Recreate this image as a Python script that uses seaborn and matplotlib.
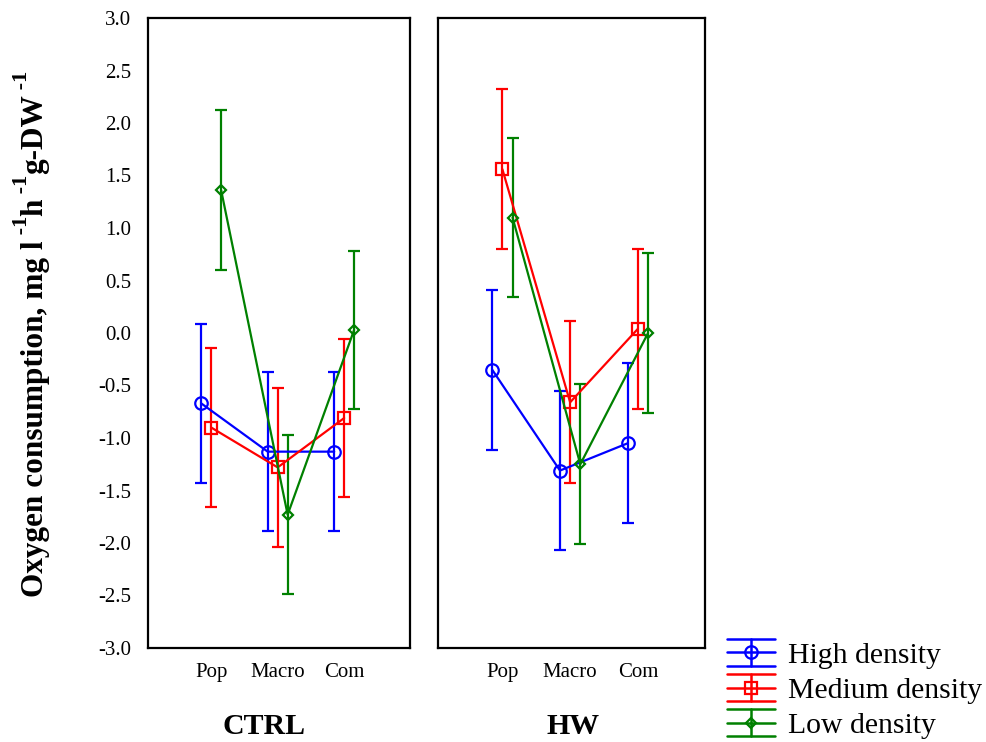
import numpy as np
import pandas as pd
import seaborn as sns
import matplotlib
matplotlib.use("Agg")
import matplotlib.pyplot as plt
from matplotlib.lines import Line2D
from matplotlib.legend_handler import HandlerBase
from matplotlib.transforms import IdentityTransform

# ---------------- data ----------------
categories = ["Pop", "Macro", "Com"]
panels = ["CTRL", "HW"]
densities = ["High density", "Medium density", "Low density"]

ctrl_high = [-0.67, -1.13, -1.13]
ctrl_high_err = [0.76, 0.76, 0.76]
ctrl_medium = [-0.90, -1.28, -0.81]
ctrl_medium_err = [0.76, 0.76, 0.75]
ctrl_low = [1.36, -1.73, 0.03]
ctrl_low_err = [0.76, 0.76, 0.75]

hw_high = [-0.35, -1.31, -1.05]
hw_high_err = [0.76, 0.76, 0.76]
hw_medium = [1.56, -0.66, 0.04]
hw_medium_err = [0.76, 0.77, 0.76]
hw_low = [1.10, -1.25, 0.00]
hw_low_err = [0.76, 0.76, 0.76]

yticks = [-3.0, -2.5, -2.0, -1.5, -1.0, -0.5, 0.0, 0.5, 1.0, 1.5, 2.0, 2.5, 3.0]

ylabel_pieces = [("Oxygen consumption, mg l", False), (" -1", True),
                 ("h", False), (" -1", True),
                 ("g-DW", False), (" -1", True)]

# ---------------- styling ----------------
sns.set_theme(style="white")
plt.rcParams["font.family"] = ["Liberation Serif", "DejaVu Serif"]
for k in ["text.color", "axes.labelcolor", "xtick.color", "ytick.color", "axes.edgecolor"]:
    plt.rcParams[k] = "black"

colors = {"High density": "#0000ff", "Medium density": "#ff0000", "Low density": "#008000"}
markers = {"High density": "o", "Medium density": "s", "Low density": "D"}
msizes = {"High density": 9, "Medium density": 8.5, "Low density": 5.5}
dodge = {"High density": -0.15, "Medium density": 0.0, "Low density": 0.15}

series = {
    ("CTRL", "High density"): (ctrl_high, ctrl_high_err),
    ("CTRL", "Medium density"): (ctrl_medium, ctrl_medium_err),
    ("CTRL", "Low density"): (ctrl_low, ctrl_low_err),
    ("HW", "High density"): (hw_high, hw_high_err),
    ("HW", "Medium density"): (hw_medium, hw_medium_err),
    ("HW", "Low density"): (hw_low, hw_low_err),
}

rows = []
for (panel, dens), (vals, errs) in series.items():
    for i, cat in enumerate(categories):
        rows.append(dict(panel=panel, density=dens, category=cat,
                         idx=i, value=vals[i], err=errs[i]))
df = pd.DataFrame(rows)
df["xpos"] = df["idx"] + df["density"].map(dodge)

W, H = 986, 742
fig = plt.figure(figsize=(W / 100, H / 100), dpi=100)
axes = [fig.add_axes([148 / W, 1 - 648 / H, 262 / W, 630 / H]),
        fig.add_axes([438 / W, 1 - 648 / H, 267 / W, 630 / H])]
panel_label_x = [264 / W, 573 / W]

for ax, panel, lx in zip(axes, panels, panel_label_x):
    for dens in densities:
        sub = df[(df.panel == panel) & (df.density == dens)]
        c = colors[dens]
        ax.errorbar(sub["xpos"], sub["value"], yerr=sub["err"], fmt="none",
                    ecolor=c, elinewidth=1.6, capsize=4, capthick=1.6, zorder=2)
        sns.lineplot(data=sub, x="xpos", y="value", ax=ax, color=c,
                     marker=markers[dens], markersize=msizes[dens],
                     markerfacecolor="none", markeredgecolor=c,
                     markeredgewidth=1.6, linewidth=1.6, sort=False,
                     errorbar=None, legend=False, zorder=3)
    ax.set_xlim(-0.95, 2.99)
    ax.set_ylim(-3.0, 3.0)
    ax.set_xticks(range(len(categories)))
    ax.set_xticklabels(categories, fontsize=15)
    ax.set_yticks(yticks)
    ax.set_xlabel("")
    ax.set_ylabel("")
    ax.tick_params(axis="both", length=0)
    ax.tick_params(axis="x", pad=11)
    ax.grid(False)
    for s in ax.spines.values():
        s.set_color("black")
        s.set_linewidth(1.6)
        s.set_visible(True)
    fig.text(lx, 15 / H, panel, ha="center", va="center",
             fontsize=21.5, fontweight="bold")

axes[0].set_yticklabels([f"{t:.1f}" for t in yticks], fontsize=15)
axes[0].tick_params(axis="y", pad=12)
axes[1].set_yticklabels([])

# ---------------- y label (composed with superscripts) ----------------
renderer = fig.canvas.get_renderer()
base_x = 42.5
sup_x = 27.0
ypos = float(H - 597)
for s, sup in ylabel_pieces:
    t = fig.text(sup_x if sup else base_x, ypos, s, transform=IdentityTransform(),
                 rotation=90, rotation_mode="anchor", ha="left", va="baseline",
                 fontsize=16 if sup else 22.5, fontweight="bold")
    bb = t.get_window_extent(renderer)
    ypos += bb.height


# ---------------- legend ----------------
class ErrHandler(HandlerBase):
    def create_artists(self, legend, orig_handle, xdescent, ydescent,
                       width, height, fontsize, trans):
        c = orig_handle.get_color()
        m = orig_handle.get_marker()
        ms = orig_handle.get_markersize()
        x0 = -xdescent
        x1 = x0 + width
        xm = (x0 + x1) / 2
        y0 = -ydescent
        ym = y0 + height / 2
        h = 13.5 * 72 / 100  # half height in points
        arts = []
        for yy in (ym - h, ym, ym + h):
            arts.append(Line2D([x0, x1], [yy, yy], color=c, lw=1.8))
        arts.append(Line2D([xm, xm], [ym - h, ym + h], color=c, lw=1.8))
        arts.append(Line2D([xm], [ym], color=c, marker=m, markersize=ms,
                           markerfacecolor="none", markeredgecolor=c,
                           markeredgewidth=1.6, linestyle="none"))
        for a in arts:
            a.set_transform(trans)
        return arts


handles = [Line2D([], [], color=colors[d], marker=markers[d],
                  markersize=msizes[d]) for d in densities]
fig.legend(handles, densities, handler_map={Line2D: ErrHandler()},
           loc="lower left", bbox_to_anchor=(727 / W, 3 / H),
           frameon=False, fontsize=21.4, handlelength=1.6, handleheight=0.9,
           handletextpad=0.44, labelspacing=0.22, borderpad=0.0,
           borderaxespad=0)

fig.savefig("out.png", dpi=100)
